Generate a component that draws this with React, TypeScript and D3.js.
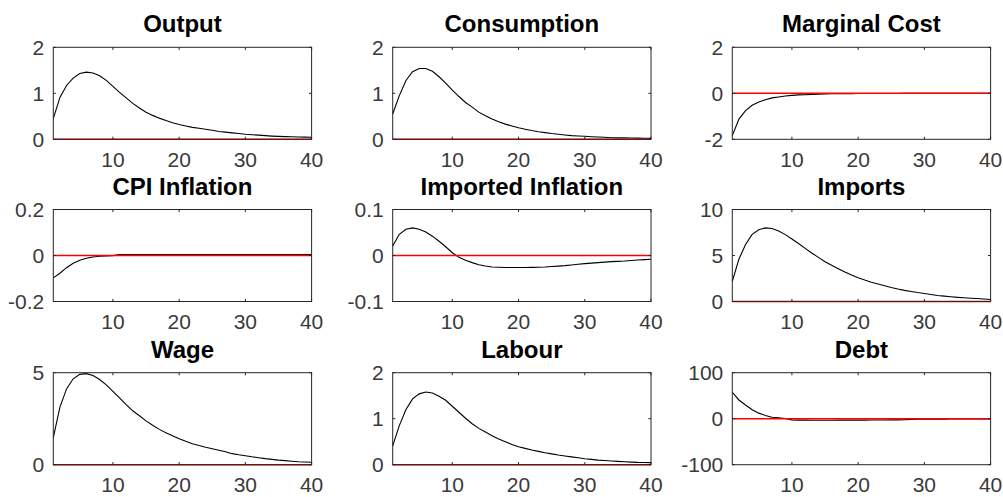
import React from "react";
import * as d3 from "d3";

const periods: number[] = d3.range(1, 41);
const xTicks = [10, 20, 30, 40];

const titles = ["Output", "Consumption", "Marginal Cost", "CPI Inflation", "Imported Inflation", "Imports", "Wage", "Labour", "Debt"];

const output = [0.45, 0.91, 1.17, 1.33, 1.43, 1.46, 1.44, 1.38, 1.28, 1.15, 1.02, 0.9, 0.78, 0.68, 0.59, 0.52, 0.46, 0.41, 0.36, 0.32,
  0.29, 0.26, 0.24, 0.22, 0.195, 0.17, 0.155, 0.14, 0.125, 0.11, 0.1, 0.09, 0.08, 0.07, 0.063, 0.058, 0.054, 0.05, 0.047, 0.045];
const consumption = [0.55, 0.95, 1.28, 1.47, 1.54, 1.54, 1.48, 1.36, 1.22, 1.07, 0.93, 0.8, 0.7, 0.59, 0.51, 0.44, 0.38, 0.33, 0.29, 0.25,
  0.22, 0.19, 0.165, 0.145, 0.125, 0.11, 0.095, 0.08, 0.072, 0.065, 0.057, 0.05, 0.043, 0.035, 0.032, 0.03, 0.027, 0.025, 0.022, 0.02];
const marginalCost = [-1.84, -1.12, -0.75, -0.52, -0.38, -0.28, -0.2, -0.16, -0.12, -0.09, -0.07, -0.06, -0.045, -0.035, -0.028, -0.022, -0.018, -0.015, -0.012, -0.01,
  -0.009, -0.008, -0.007, -0.0065, -0.006, -0.0055, -0.005, -0.0045, -0.004, -0.0037, -0.0034, -0.0031, -0.0028, -0.0026, -0.0024, -0.0022, -0.002, -0.0019, -0.0018, -0.0017];
const cpiInflation = [-0.0975, -0.077, -0.053, -0.034, -0.021, -0.012, -0.0065, -0.0035, -0.002, -0.0005, 0.004, 0.0045, 0.0045, 0.0045, 0.0045, 0.0045, 0.0045, 0.0045, 0.0045, 0.0045,
  0.0045, 0.0045, 0.0045, 0.0045, 0.0045, 0.0045, 0.0045, 0.0045, 0.0045, 0.0045, 0.0045, 0.0045, 0.0045, 0.0045, 0.0045, 0.0045, 0.0045, 0.0045, 0.0045, 0.0045];
const importedInflation = [0.0206, 0.046, 0.057, 0.06, 0.057, 0.051, 0.042, 0.031, 0.019, 0.006, -0.004, -0.0105, -0.0155, -0.02, -0.0227, -0.025, -0.0256, -0.026, -0.026, -0.026,
  -0.026, -0.0258, -0.0255, -0.025, -0.024, -0.023, -0.022, -0.0206, -0.019, -0.0177, -0.0166, -0.0155, -0.0145, -0.0134, -0.0127, -0.012, -0.0108, -0.0097, -0.009, -0.0083];
const imports = [2.2, 4.6, 6.2, 7.3, 7.8, 8.0, 7.93, 7.67, 7.27, 6.8, 6.3, 5.78, 5.27, 4.8, 4.33, 3.93, 3.56, 3.2, 2.87, 2.58,
  2.33, 2.1, 1.9, 1.71, 1.52, 1.35, 1.21, 1.09, 0.97, 0.87, 0.76, 0.65, 0.58, 0.51, 0.45, 0.4, 0.36, 0.33, 0.27, 0.22];
const wage = [1.47, 3.13, 4.12, 4.67, 4.91, 4.95, 4.85, 4.63, 4.34, 3.99, 3.63, 3.26, 2.93, 2.66, 2.38, 2.14, 1.92, 1.74, 1.58, 1.41,
  1.27, 1.14, 1.04, 0.95, 0.87, 0.79, 0.7, 0.6, 0.54, 0.49, 0.43, 0.38, 0.33, 0.29, 0.25, 0.22, 0.19, 0.16, 0.145, 0.13];
const labour = [0.41, 0.85, 1.2, 1.43, 1.54, 1.58, 1.56, 1.49, 1.4, 1.27, 1.14, 1.01, 0.89, 0.79, 0.71, 0.63, 0.56, 0.5, 0.44, 0.39,
  0.355, 0.32, 0.29, 0.26, 0.235, 0.21, 0.19, 0.17, 0.15, 0.13, 0.115, 0.1, 0.09, 0.08, 0.072, 0.065, 0.057, 0.05, 0.047, 0.045];
const debt = [57.5, 40.7, 29.7, 19.4, 12.1, 7.0, 3.3, 1.8, 0.5, -2.5, -3.0, -3.2, -3.3, -3.3, -3.3, -3.3, -3.2, -3.2, -3.1, -3.0,
  -3.0, -2.9, -2.8, -2.7, -2.6, -2.5, -2.3, -1.5, -1.3, -1.2, -1.1, -1.0, -0.9, -0.8, -0.7, -0.6, -0.5, -0.5, -0.4, -0.4];

const seriesList = [output, consumption, marginalCost, cpiInflation, importedInflation, imports, wage, labour, debt];
const yDomains: [number, number][] = [[0, 2], [0, 2], [-2, 2], [-0.2, 0.2], [-0.1, 0.1], [0, 10], [0, 5], [0, 2], [-100, 100]];
const yTicks: number[][] = [[0, 1, 2], [0, 1, 2], [-2, 0, 2], [-0.2, 0, 0.2], [-0.1, 0, 0.1], [0, 5, 10], [0, 5], [0, 1, 2], [-100, 0, 100]];

const colLefts = [53.3, 392.7, 732.3];
const rowTops = [47.3, 209.5, 372.7];
const W = 258.3;
const H = 92;
const FONT = "'Liberation Sans', Arial, Helvetica, sans-serif";
const AX = "#262626";
const LBL = "#3a3a3a";

function Panel({ idx }: { idx: number }) {
  const left = colLefts[idx % 3];
  const top = rowTops[Math.floor(idx / 3)];
  const x = d3.scaleLinear().domain([1, 40]).range([left, left + W]);
  const y = d3.scaleLinear().domain(yDomains[idx]).range([top + H, top]);
  const data = seriesList[idx];
  const line = d3.line<number>().x((_, i) => x(periods[i])).y((d) => y(d));
  const zero = d3.line<number>().x((d) => x(d)).y(() => y(0));
  const tl = 2.6;
  return (
    <g>
      <path d={line(data) || ""} fill="none" stroke="#000" strokeWidth={1.1} />
      <path d={zero(periods) || ""} fill="none" stroke="#ff0000" strokeWidth={1.4} />
      <rect x={left} y={top} width={W} height={H} fill="none" stroke={AX} strokeWidth={1} />
      {xTicks.map((t) => (
        <g key={"x" + t}>
          <line x1={x(t)} x2={x(t)} y1={top + H} y2={top + H - tl} stroke={AX} />
          <line x1={x(t)} x2={x(t)} y1={top} y2={top + tl} stroke={AX} />
          <text x={x(t)} y={top + H + 27.5} textAnchor="middle" fontSize={21} fill={LBL} fontFamily={FONT}>{t}</text>
        </g>
      ))}
      {yTicks[idx].map((t) => (
        <g key={"y" + t}>
          <line x1={left} x2={left + tl} y1={y(t)} y2={y(t)} stroke={AX} />
          <line x1={left + W} x2={left + W - tl} y1={y(t)} y2={y(t)} stroke={AX} />
          <text x={left - 9} y={y(t)} dy="0.36em" textAnchor="end" fontSize={21} fill={LBL} fontFamily={FONT}>{t}</text>
        </g>
      ))}
      <text x={left + W / 2} y={top - 15} textAnchor="middle" fontSize={24} fontWeight="bold" fill="#000" fontFamily={FONT}>{titles[idx]}</text>
    </g>
  );
}

export default function App() {
  return (
    <svg width={1003} height={497} style={{ position: "absolute", left: 0, top: 0, background: "#fff" }}>
      <rect x={0} y={0} width={1003} height={497} fill="#fff" />
      {titles.map((_, i) => <Panel key={i} idx={i} />)}
    </svg>
  );
}
